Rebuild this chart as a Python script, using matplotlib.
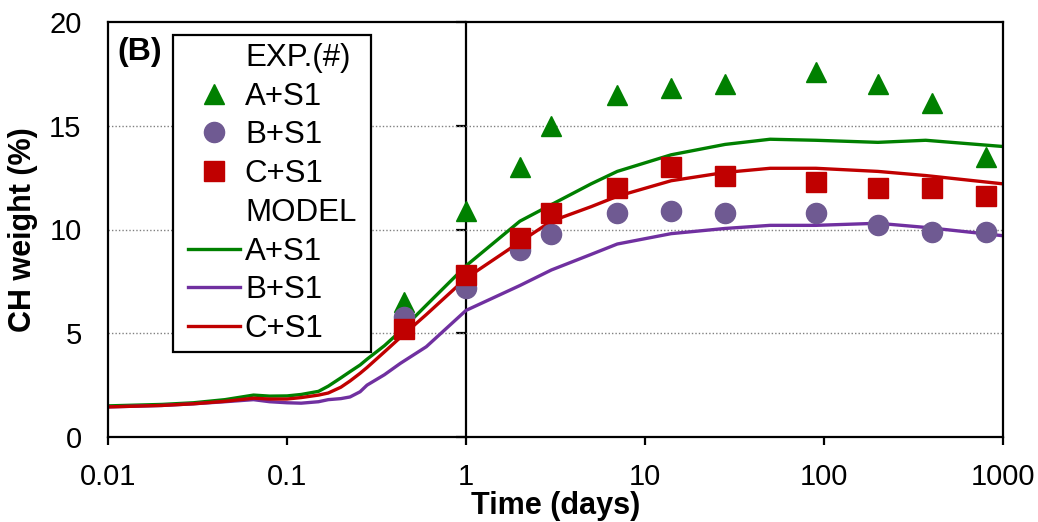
import matplotlib
matplotlib.use("Agg")
import matplotlib.pyplot as plt
import numpy as np
from matplotlib.lines import Line2D
from matplotlib.path import Path

plt.rcParams['font.family'] = ['Liberation Sans', 'DejaVu Sans']

# ---- data ----
exp_t = [0.45, 1, 2, 3, 7, 14, 28, 90, 200, 400, 800]
exp_A = [6.5, 10.9, 13.0, 15.0, 16.5, 16.8, 17.0, 17.6, 17.0, 16.1, 13.5]
exp_B = [5.8, 7.2, 9.0, 9.8, 10.8, 10.9, 10.8, 10.8, 10.2, 9.9, 9.9]
exp_C = [5.2, 7.8, 9.6, 10.8, 12.0, 13.0, 12.6, 12.3, 12.0, 12.0, 11.6]

model_t = [0.01, 0.02, 0.03, 0.045, 0.065, 0.08, 0.1, 0.12, 0.15, 0.17, 0.2,
           0.225, 0.256, 0.28, 0.35, 0.43, 0.6, 1, 2, 3, 5, 7, 14, 28, 50,
           90, 200, 370, 1000]
model_A = [1.5, 1.57, 1.65, 1.8, 2.02, 1.97, 1.98, 2.05, 2.2, 2.45, 2.85,
           3.15, 3.47, 3.75, 4.4, 5.1, 6.35, 8.25, 10.4, 11.2, 12.2, 12.8, 13.6,
           14.1, 14.35, 14.3, 14.2, 14.3, 14.0]
model_B = [1.45, 1.52, 1.6, 1.7, 1.8, 1.7, 1.65, 1.63, 1.7, 1.8, 1.85,
           1.93, 2.18, 2.5, 3.0, 3.55, 4.35, 6.1, 7.3, 8.05, 8.8, 9.3, 9.8,
           10.05, 10.2, 10.2, 10.3, 10.1, 9.7]
model_C = [1.45, 1.52, 1.6, 1.72, 1.87, 1.83, 1.83, 1.9, 2.02, 2.12, 2.4,
           2.7, 3.07, 3.35, 4.1, 4.8, 5.9, 7.65, 9.4, 10.4, 11.1, 11.6, 12.35,
           12.75, 12.95, 12.95, 12.8, 12.6, 12.2]

xticks = [0.01, 0.1, 1, 10, 100, 1000]
xtick_labels = ['0.01', '0.1', '1', '10', '100', '1000']
yticks = [0, 5, 10, 15, 20]
series_labels = ['A+S1', 'B+S1', 'C+S1']

green = '#008000'
purple_line = '#7030A0'
purple_mk = '#6F5A92'
red = '#C00000'

W, H = 1038, 522
fig = plt.figure(figsize=(W / 100, H / 100), dpi=100)
ax = fig.add_axes([108 / W, 1 - 437 / H, (1003 - 108) / W, (437 - 22) / H])

ax.set_xscale('log')
ax.set_xlim(0.01, 1000)
ax.set_ylim(0, 20)

# grid
for yv in yticks[1:-1]:
    ax.axhline(yv, color='#808080', lw=1.0, ls=(0, (1, 1.5)), zorder=0.5)

# model lines
lA, = ax.plot(model_t, model_A, color=green, lw=2.4, zorder=2)
lB, = ax.plot(model_t, model_B, color=purple_line, lw=2.4, zorder=2)
lC, = ax.plot(model_t, model_C, color=red, lw=2.4, zorder=2)

# experimental markers
mA, = ax.plot(exp_t, exp_A, ls='none', marker='^', ms=14, color=green, zorder=3)
mB, = ax.plot(exp_t, exp_B, ls='none', marker='o', ms=14.5, color=purple_mk, zorder=4)
mC, = ax.plot(exp_t, exp_C, ls='none', marker='s', ms=14, color=red, zorder=5)

# spines / ticks
for s in ax.spines.values():
    s.set_linewidth(1.6)
    s.set_color('black')
ax.xaxis.set_major_locator(matplotlib.ticker.FixedLocator(xticks))
ax.xaxis.set_minor_locator(matplotlib.ticker.NullLocator())
ax.set_xticklabels(xtick_labels)
ax.set_yticks(yticks)
ax.tick_params(axis='x', direction='out', length=6, width=1.6, pad=13, labelsize=21)
ax.tick_params(axis='y', length=0, pad=19, labelsize=21)

# inner vertical axis at x = 1 with ticks
loc = (np.log10(1) - np.log10(0.01)) / (np.log10(1000) - np.log10(0.01))
sec = ax.secondary_yaxis(loc)
sec.set_yticks(yticks)
sec.set_yticklabels([])
sec.tick_params(axis='y', direction='out', length=7, width=1.6)
sec.spines['left'].set_linewidth(1.6)

ax.set_xlabel('Time (days)', fontsize=22, fontweight='bold', labelpad=0)
ax.set_ylabel('CH weight (%)', fontsize=22, fontweight='bold', labelpad=8)

ax.text(0.011, 0.908, '(B)', transform=ax.transAxes, fontsize=23,
        fontweight='bold', va='baseline', ha='left')

# legend: frame widened horizontally only
XPAD = 0.23


def wide_box(x0, y0, width, height, mutation_size):
    dx = XPAD * mutation_size
    xa, xb = x0 - dx, x0 + width + dx
    ya, yb = y0, y0 + height
    return Path([(xa, ya), (xb, ya), (xb, yb), (xa, yb), (xa, ya)],
                [Path.MOVETO, Path.LINETO, Path.LINETO, Path.LINETO, Path.CLOSEPOLY])


LEG_FS = 22.5
blank = Line2D([], [], ls='none')
handles = [blank, mA, mB, mC, blank, lA, lB, lC]
labels = ['EXP.(#)'] + series_labels + ['MODEL'] + series_labels
dx_px = XPAD * LEG_FS * 100 / 72
leg = ax.legend(handles, labels, loc='upper left',
                bbox_to_anchor=((173 + dx_px) / W, 1 - 35 / H),
                bbox_transform=fig.transFigure,
                borderaxespad=0, fontsize=LEG_FS, frameon=True, fancybox=False,
                edgecolor='black', framealpha=1, handlelength=1.66,
                handletextpad=0.16, labelspacing=0.28, borderpad=0.25, numpoints=1)
leg.get_frame().set_boxstyle(wide_box)
leg.get_frame().set_linewidth(1.6)
leg.set_zorder(10)

fig.savefig('out.png', dpi=100)
